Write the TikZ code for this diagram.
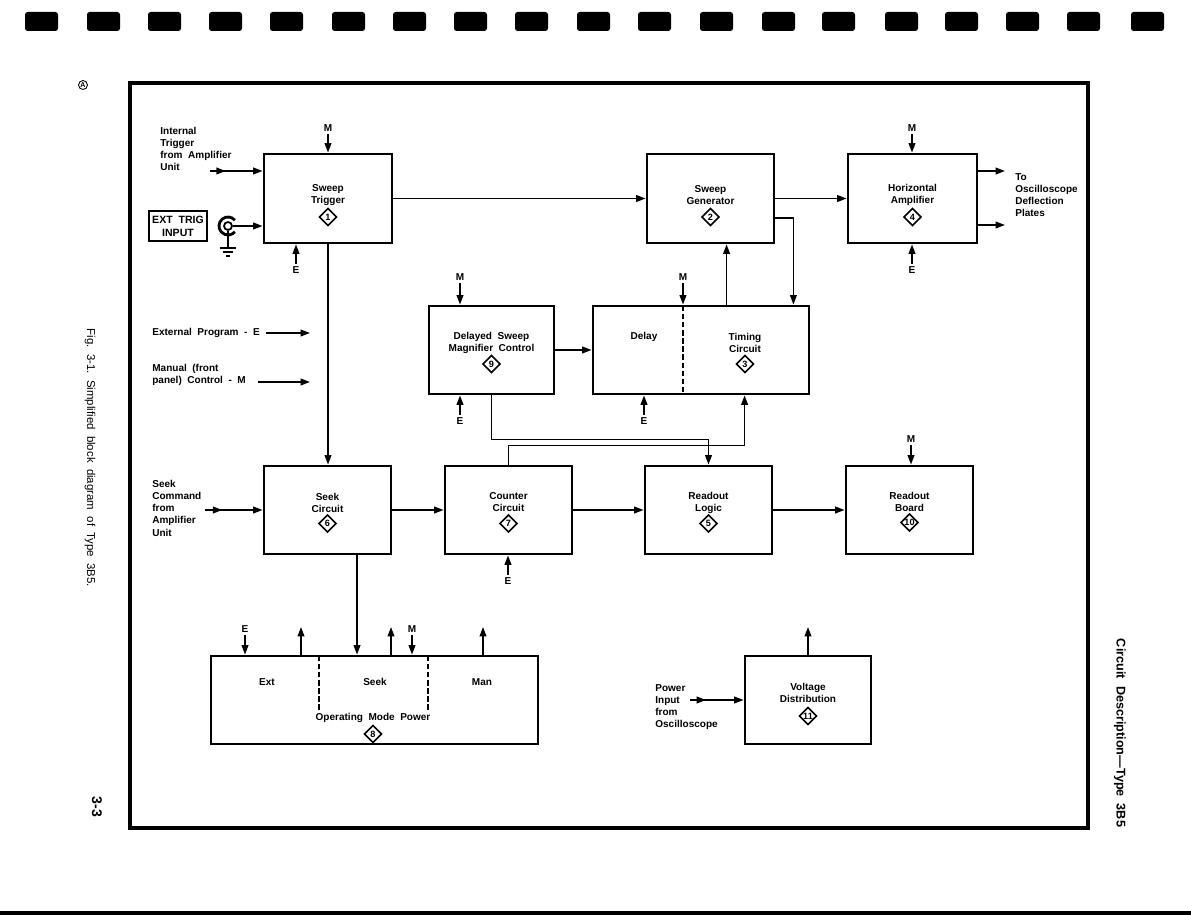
\documentclass[tikz,border=0pt]{standalone}
\usepackage{fontspec}
\setmainfont{Liberation Sans}
\usetikzlibrary{arrows.meta, positioning, shapes.geometric, fit, calc, decorations.markings}

\tikzset{
  blk/.style={draw, line width=1.6pt, inner sep=0pt},
  lbl/.style={font=\fontsize{5.7}{6.8}\selectfont\bfseries, align=center, inner sep=0pt},
  txt/.style={font=\fontsize{5.7}{6.9}\selectfont\bfseries, align=left, inner sep=0pt},
  ctl/.style={font=\fontsize{5.7}{6.8}\selectfont\bfseries, inner sep=1.5pt},
  num/.style={draw, diamond, line width=0.9pt, inner sep=0pt, minimum size=0.35cm,
    font=\fontsize{5.2}{6}\selectfont\bfseries},
  arr/.style={line width=0.95pt, -{Triangle[length=1.9mm, width=1.35mm]}},
  wire/.style={line width=0.95pt},
  dbl/.style={postaction={decorate, decoration={markings,
    mark=at position 0.3 with {\arrow{Triangle[length=1.9mm, width=1.35mm]}}}}},
  sep/.style={line width=0.9pt, dash pattern=on 3pt off 1.6pt}
}

\begin{document}
\begin{tikzpicture}[x=0.02cm, y=-0.02cm]
  \useasboundingbox (0,0) rectangle (1191,915);

  % film holes and page edges
  \foreach \xa in {25,87,148,209,270,332,393,454,515,577,638,700,762,822,885,945,1006,1067,1131}
    \fill[rounded corners=1.5pt] (\xa,12) rectangle (\xa+33,31);
  \fill (0,911) rectangle (1191,915);
  \draw[line width=2.2pt] (130,83) rectangle (1088,828);

  % blocks
  \foreach \nm/\xa/\ya/\xb/\yb in {trig/264/154/392/243, sgen/647/154/774/243,
      hamp/848/154/977/243, dsm/429/306/554/394, tim/593/306/809/394,
      seek/264/466/391/554, cntr/445/466/572/554, rlog/645/466/772/554,
      rbrd/846/466/973/554, opm/211/656/538/744, vdis/745/656/871/744}
    \node[blk, fit={(\xa,\ya) (\xb,\yb)}] (\nm) {};

  \foreach \nm/\tx/\n/\dt/\dn in {
      trig/{Sweep\\Trigger}/1/-3.5/18.5,
      sgen/{Sweep\\Generator}/2/-3.5/18.5,
      hamp/{Horizontal\\Amplifier}/4/-3.5/18.5,
      dsm/{Delayed\ \ Sweep\\Magnifier\ \ Control}/9/-7/14,
      seek/{Seek\\Circuit}/6/-7.5/13.5,
      cntr/{Counter\\Circuit}/7/-7.5/13.5,
      rlog/{Readout\\Logic}/5/-7.5/13.5,
      rbrd/{Readout\\Board}/10/-8/12.5,
      vdis/{Voltage\\Distribution}/11/-7/16} {
    \node[lbl] (\nm-t) at ($(\nm.center)+(0,\dt)$) {\tx};
    \node[num] (\nm-n) at ($(\nm.center)+(0,\dn)$) {\n};
  }

  % split blocks
  \draw[sep] (683,306) -- (683,394);
  \node[lbl] (tim-d) at (644,337) {Delay};
  \node[lbl] (tim-t) at (745,343) {Timing\\Circuit};
  \node[num] (tim-n) at (745,364) {3};

  \draw[sep] (319,656) -- (319,711);
  \draw[sep] (428,656) -- (428,711);
  \node[lbl] (opm-e) at (267,682) {Ext};
  \node[lbl] (opm-s) at (375,682) {Seek};
  \node[lbl] (opm-m) at (482,682) {Man};
  \node[lbl] (opm-t) at (373,718) {Operating\ \ Mode\ \ Power};
  \node[num] (opm-n) at (373,734) {8};

  % external trigger input
  \node[draw, line width=0.8pt, fit={(149,211) (207,241)}, inner sep=0pt] (extb) {};
  \node[lbl, font=\fontsize{6}{7.4}\selectfont\bfseries] (extb-t) at (extb) {EXT\ \ TRIG\\INPUT};
  \node[circle, draw, line width=1pt, minimum size=0.16cm, inner sep=0pt] (bnc) at (228,226) {};
  \draw[line width=1.6pt] (bnc.center) ++(40:0.18cm) arc[start angle=40, end angle=320, radius=0.18cm];
  \coordinate (gnd) at (228,248);
  \draw[wire] (bnc.south) -- (gnd);
  \draw[wire] (220,248) -- (236,248) (223,252) -- (233,252) (226,256) -- (230,256);
  \draw[arr] (bnc.east) -- (bnc -| trig.west);

  % control inputs
  \foreach \nm/\lt/\xa/\ya in {mTrig/M/328/128, eTrig/E/296/270, mHamp/M/912/128,
      eHamp/E/912/270, mDsm/M/460/277, eDsm/E/460/421, mTim/M/683/277, eTim/E/644/421,
      mBrd/M/911/439, eCntr/E/508/581, eOpm/E/245/629, mOpm/M/412/629}
    \node[ctl] (\nm) at (\xa,\ya) {\lt};

  \draw[arr] (mTrig) -- (mTrig |- trig.north);
  \draw[arr] (eTrig) -- (eTrig |- trig.south);
  \draw[arr] (mHamp) -- (mHamp |- hamp.north);
  \draw[arr] (eHamp) -- (eHamp |- hamp.south);
  \draw[arr] (mDsm) -- (mDsm |- dsm.north);
  \draw[arr] (eDsm) -- (eDsm |- dsm.south);
  \draw[arr] (mTim) -- (mTim |- tim.north);
  \draw[arr] (eTim) -- (eTim |- tim.south);
  \draw[arr] (mBrd) -- (mBrd |- rbrd.north);
  \draw[arr] (eCntr) -- (eCntr |- cntr.south);
  \draw[arr] (eOpm) -- (eOpm |- opm.north);
  \draw[arr] (mOpm) -- (mOpm |- opm.north);

  % signal paths
  \coordinate (inTrg) at (210,171);
  \coordinate (inSeek) at (205,510);
  \coordinate (inPwr) at (690,700);
  \draw[arr, dbl] (inTrg) -- (inTrg -| trig.west);
  \draw[arr, dbl] (inSeek) -- (inSeek -| seek.west);
  \draw[arr, dbl] (inPwr) -- (inPwr -| vdis.west);

  \draw[arr] (trig) -- (sgen);
  \draw[arr] (sgen) -- (hamp);
  \draw[arr] (dsm) -- (tim);
  \draw[arr] (seek) -- (cntr);
  \draw[arr] (cntr) -- (rlog);
  \draw[arr] (rlog) -- (rbrd);
  \draw[arr] (trig.south) -- (trig.south |- seek.north);

  \coordinate (toA) at (1005,171);
  \coordinate (toB) at (1005,225);
  \draw[arr] (toA -| hamp.east) -- (toA);
  \draw[arr] (toB -| hamp.east) -- (toB);

  \draw[arr] ($(sgen.east)+(0,19.5)$) -| ($(tim.north east)+(-17,0)$);
  \coordinate (tmUp) at ($(tim.north west)+(135,0)$);
  \draw[arr] (tmUp) -- (tmUp |- sgen.south);
  \draw[arr] (dsm.south) -- ++(0,44) -| (rlog.north);
  \draw[arr] (cntr.north) -- ++(0,-19) -| ($(tim.south west)+(153,0)$);

  \coordinate (skDn) at ($(seek.south)+(29.5,0)$);
  \draw[arr] (skDn) -- (skDn |- opm.north);
  \foreach \xa [count=\k] in {301,391,483} {
    \coordinate (up\k) at (\xa,627);
    \draw[arr] (up\k |- opm.north) -- (up\k);
  }
  \coordinate (vUp) at (808,627);
  \draw[arr] (vdis.north) -- (vUp);

  % free texts
  \node[txt, anchor=north west] (inTrg-t) at (160,127) {Internal\\Trigger\\from\ \ Amplifier\\Unit};
  \node[txt, anchor=north west] (inSeek-t) at (152,480) {Seek\\Command\\from\\Amplifier\\Unit};
  \node[txt, anchor=north west] (inPwr-t) at (655,684) {Power\\Input\\from\\Oscilloscope};
  \node[txt, anchor=north west] (toA-t) at (1015,173) {To\\Oscilloscope\\Deflection\\Plates};

  % key
  \node[txt, anchor=west] (keyE-t) at (152,333) {External\ \ Program\ \ -\ \ E};
  \node[txt, anchor=north west] (keyM-t) at (152,364) {Manual\ \ (front\\panel)\ \ Control\ \ -\ \ M};
  \coordinate (keyE) at (310,333);
  \coordinate (keyMs) at (258,382);
  \coordinate (keyM) at (310,382);
  \draw[arr] ($(keyE-t.east)+(6,0)$) -- (keyE);
  \draw[arr] (keyMs) -- (keyM);

  % page margins
  \node[font=\fontsize{6.5}{7}\selectfont, rotate=-90] (cap) at (90,458)
    {Fig.\ \ 3-1.\ \ Simplified\ \ block\ \ diagram\ \ of\ \ Type\ \ 3B5.};
  \node[font=\fontsize{7.2}{8}\selectfont\bfseries, rotate=-90] (run) at (1120,733)
    {Circuit\ \ Description—Type\ \ 3B5};
  \node[font=\fontsize{8}{9}\selectfont\bfseries, rotate=-90] (pg) at (97,807) {3-3};
  \node[circle, draw, line width=0.5pt, inner sep=0.4pt, font=\fontsize{4}{4}\selectfont\bfseries]
    (rev) at (83,85) {A};
\end{tikzpicture}
\end{document}
